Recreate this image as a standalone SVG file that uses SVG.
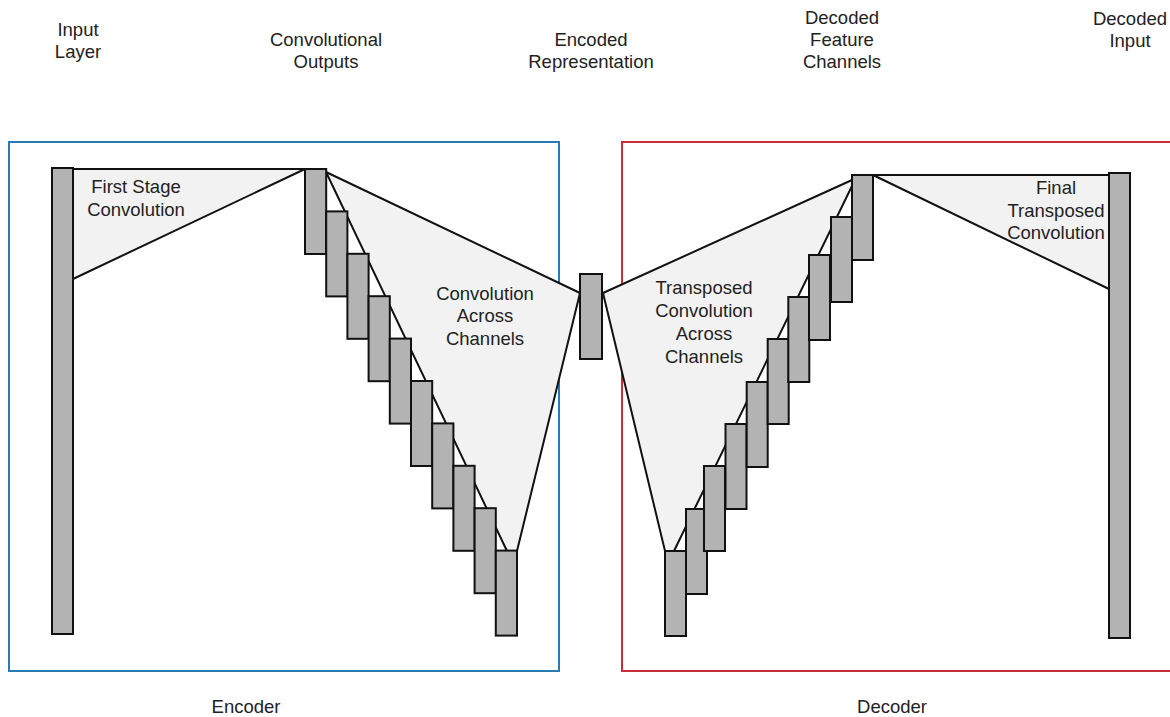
<svg xmlns="http://www.w3.org/2000/svg" width="1170" height="717" viewBox="0 0 1170 717">
  <style>
    .lbl { font-family: "Liberation Sans", Arial, sans-serif; font-size: 18.5px; fill: #222; text-anchor: middle; }
    .bar { fill: #b3b3b3; stroke: #111; stroke-width: 2; }
    .fan { fill: #f2f2f2; stroke: none; }
    .edge { stroke: #111; stroke-width: 2; fill: none; stroke-linecap: round; }
    .enc-box { fill: none; stroke: #2a7ab4; stroke-width: 2; }
    .dec-box { fill: none; stroke: #c92d39; stroke-width: 2; }
  </style>
  <rect width="1170" height="717" fill="#ffffff"/>

  <!-- column headings -->
  <g id="headings">
    <text class="lbl" x="78" y="36">Input</text>
    <text class="lbl" x="78" y="58">Layer</text>
    <text class="lbl" x="326" y="46">Convolutional</text>
    <text class="lbl" x="326" y="68">Outputs</text>
    <text class="lbl" x="591" y="46">Encoded</text>
    <text class="lbl" x="591" y="68">Representation</text>
    <text class="lbl" x="842" y="24">Decoded</text>
    <text class="lbl" x="842" y="46">Feature</text>
    <text class="lbl" x="842" y="68">Channels</text>
    <text class="lbl" x="1130" y="25">Decoded</text>
    <text class="lbl" x="1130" y="47">Input</text>
  </g>

  <!-- stage frames -->
  <g id="encoder">
    <rect class="enc-box" x="9" y="142" width="550" height="529"/>
    <text class="lbl" x="246" y="713">Encoder</text>
  </g>
  <g id="decoder">
    <rect class="dec-box" x="622" y="142" width="560" height="529"/>
    <text class="lbl" x="892" y="713">Decoder</text>
  </g>

  <!-- shaded convolution fans and their edges -->
  <g id="connectors">
    <polygon class="fan" points="73,169 305,169 73,279"/>
    <polygon class="fan" points="326,172 580,293 517,551 507,551"/>
    <polygon class="fan" points="603,293 852,180 852,186 674,551 665,551"/>
    <polygon class="fan" points="873,175 1109,175 1109,289"/>

    <line class="edge" x1="73" y1="169" x2="305" y2="169"/>
    <line class="edge" x1="73" y1="279" x2="305" y2="169"/>

    <line class="edge" x1="326" y1="172" x2="580" y2="293"/>
    <line class="edge" x1="580" y1="293" x2="517" y2="551"/>
    <line class="edge" x1="326" y1="172" x2="507" y2="551"/>

    <line class="edge" x1="603" y1="293" x2="852" y2="180"/>
    <line class="edge" x1="603" y1="293" x2="665" y2="551"/>
    <line class="edge" x1="852" y1="186" x2="674" y2="551"/>

    <line class="edge" x1="873" y1="175" x2="1109" y2="175"/>
    <line class="edge" x1="873" y1="175" x2="1109" y2="289"/>
  </g>

  <g id="fan-labels">
    <text class="lbl" x="136" y="193">First Stage</text>
    <text class="lbl" x="136" y="216">Convolution</text>
    <text class="lbl" x="485" y="300">Convolution</text>
    <text class="lbl" x="485" y="322">Across</text>
    <text class="lbl" x="485" y="345">Channels</text>
    <text class="lbl" x="704" y="294">Transposed</text>
    <text class="lbl" x="704" y="317">Convolution</text>
    <text class="lbl" x="704" y="340">Across</text>
    <text class="lbl" x="704" y="363">Channels</text>
    <text class="lbl" x="1056" y="194">Final</text>
    <text class="lbl" x="1056" y="217">Transposed</text>
    <text class="lbl" x="1056" y="239">Convolution</text>
  </g>

  <!-- layers -->
  <g id="input-layer">
    <rect class="bar" x="52" y="168" width="21" height="466"/>
  </g>

  <g id="conv-outputs">
    <rect class="bar" x="305" y="169" width="21.2" height="85"/>
    <rect class="bar" x="326.2" y="211.4" width="21.2" height="85"/>
    <rect class="bar" x="347.4" y="253.8" width="21.2" height="85"/>
    <rect class="bar" x="368.6" y="296.2" width="21.2" height="85"/>
    <rect class="bar" x="389.8" y="338.6" width="21.2" height="85"/>
    <rect class="bar" x="411" y="381" width="21.2" height="85"/>
    <rect class="bar" x="432.2" y="423.4" width="21.2" height="85"/>
    <rect class="bar" x="453.4" y="465.8" width="21.2" height="85"/>
    <rect class="bar" x="474.6" y="508.2" width="21.2" height="85"/>
    <rect class="bar" x="495.8" y="550.6" width="21.2" height="85"/>
  </g>

  <g id="encoded-representation">
    <rect class="bar" x="580" y="274" width="22" height="85"/>
  </g>

  <g id="decoded-feature-channels">
    <rect class="bar" x="665" y="551" width="21" height="85"/>
    <rect class="bar" x="686" y="509" width="21" height="85"/>
    <rect class="bar" x="704" y="466" width="21" height="85"/>
    <rect class="bar" x="725.5" y="424" width="21" height="85"/>
    <rect class="bar" x="746.7" y="382" width="21" height="85"/>
    <rect class="bar" x="767.7" y="339" width="21" height="85"/>
    <rect class="bar" x="788.3" y="297" width="21" height="85"/>
    <rect class="bar" x="809" y="255" width="21" height="85"/>
    <rect class="bar" x="831" y="217" width="21" height="85"/>
    <rect class="bar" x="852" y="175" width="21" height="85"/>
  </g>

  <g id="decoded-input">
    <rect class="bar" x="1109" y="173" width="21" height="465"/>
  </g>
</svg>
